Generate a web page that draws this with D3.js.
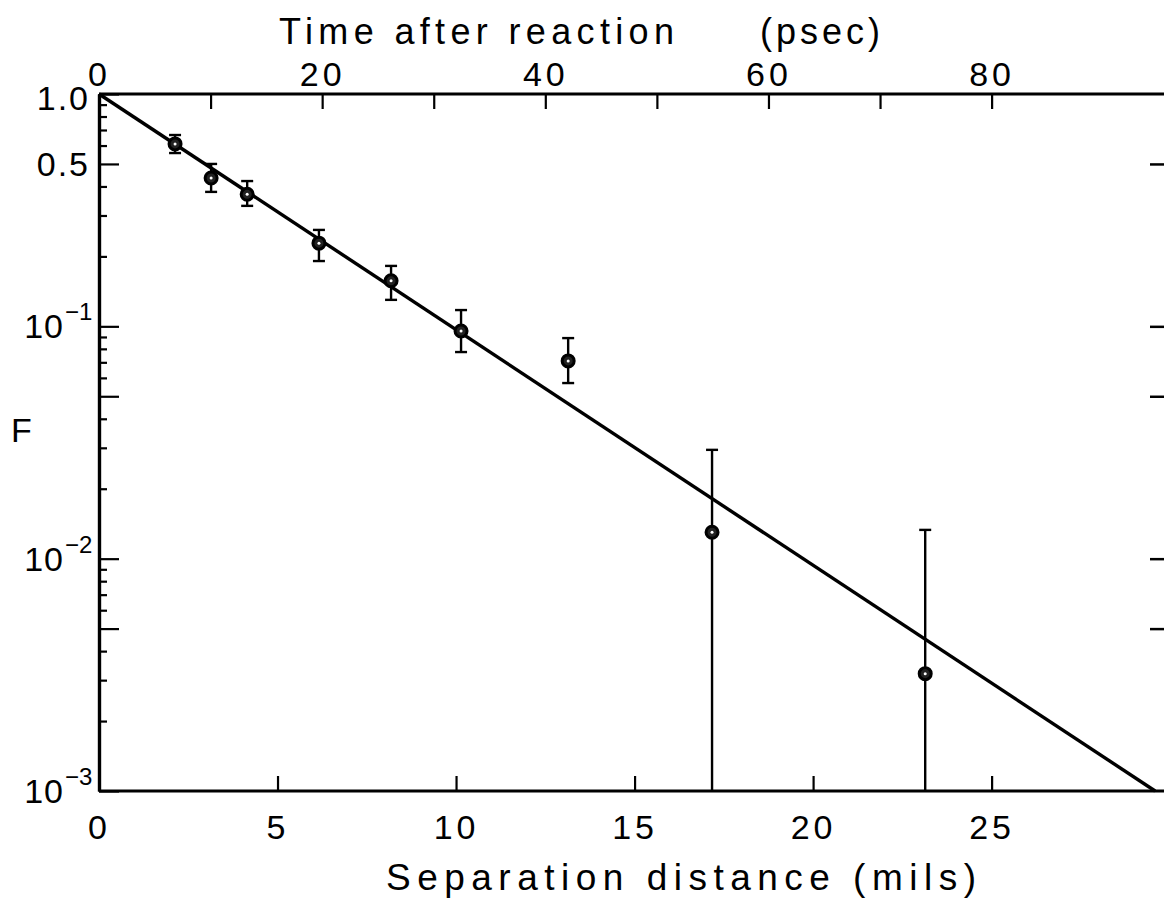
<!DOCTYPE html>
<html>
<head>
<meta charset="utf-8">
<script src="https://cdn.jsdelivr.net/npm/d3@7"></script>
<style>
  body { margin: 0; background: #fff; }
  svg { display: block; font-family: "Liberation Sans", Arial, sans-serif; }
  .axis path, .axis line { stroke: #000; }
</style>
</head>
<body>
<svg id="chart" width="1164" height="898"></svg>
<script>
// Measured points: separation (mils) and fraction F with error limits
const sepMils = [2.13, 3.14, 4.15, 6.16, 8.18, 10.14, 13.14, 17.17, 23.14];
const fValues = [0.61, 0.435, 0.37, 0.228, 0.157, 0.0955, 0.071, 0.0130, 0.0032];
const fUpper = [0.666, 0.50, 0.422, 0.260, 0.182, 0.1175, 0.089, 0.0294, 0.0133];
const fLower = [0.557, 0.379, 0.330, 0.191, 0.130, 0.0775, 0.057, 0.001, 0.001];

// Fitted exponential (straight on the log plot), end points
const fitMils = [0, 29.58];
const fitF = [1, 0.001];

// Axis ticks
const bottomTicks = [0, 5, 10, 15, 20, 25];
const topTicks = [0, 10, 20, 30, 40, 50, 60, 70, 80];
const topLabelled = [0, 20, 40, 60, 80];
const leftMajor = [1, 0.5, 0.1, 0.05, 0.01, 0.005, 0.001];
const rightTicks = [0.5, 0.1, 0.05, 0.01, 0.005];
const yLabels = [
  { v: 1, base: '1.0', exp: '' },
  { v: 0.5, base: '0.5', exp: '' },
  { v: 0.1, base: '10', exp: '−1' },
  { v: 0.01, base: '10', exp: '−2' },
  { v: 0.001, base: '10', exp: '−3' },
];
const psecPerMil = 3.2;

const svg = d3.select('#chart');
const mLeft = 99, mRight = 1163, mTop = 94, mBottom = 791;
const xMax = 29.8;

const x = d3.scaleLinear().domain([0, xMax]).range([mLeft, mRight]);
const xTop = d3.scaleLinear().domain([0, xMax * psecPerMil]).range([mLeft, mRight]);
const y = d3.scaleLog().domain([0.001, 1]).range([mBottom, mTop]);

// minor ticks 2..9 in every decade
const leftMinor = [];
[0.001, 0.01, 0.1].forEach((d) => {
  for (let k = 2; k <= 9; k++) if (k !== 5) leftMinor.push(d * k);
});

const styleAxis = (g, w) => {
  g.selectAll('path').attr('stroke-width', w);
  g.selectAll('line').attr('stroke-width', 2.2);
};
const font = '"Liberation Sans", Arial, sans-serif';

// bottom axis
const gB = svg.append('g').attr('class', 'axis')
  .attr('transform', `translate(0,${mBottom})`)
  .call(d3.axisBottom(x).tickValues(bottomTicks).tickSize(-15).tickSizeOuter(0));
styleAxis(gB, 3.2);
gB.select('path').attr('d', `M${mLeft},0H1164`);
gB.selectAll('text').attr('font-size', 34).attr('fill', '#000')
  .attr('dy', null).attr('y', 48).attr('letter-spacing', 4)
  .attr('font-family', font);

// top axis (time)
const gT = svg.append('g').attr('class', 'axis')
  .attr('transform', `translate(0,${mTop})`)
  .call(d3.axisTop(xTop).tickValues(topTicks).tickSize(-15).tickSizeOuter(0)
    .tickFormat((d) => (topLabelled.includes(d) ? d : '')));
styleAxis(gT, 3.2);
gT.select('path').attr('d', `M${mLeft},0H1164`);
gT.selectAll('text').attr('font-size', 34).attr('fill', '#000')
  .attr('dy', null).attr('y', -8).attr('letter-spacing', 4)
  .attr('font-family', font);

// left axis
const gL = svg.append('g').attr('class', 'axis')
  .attr('transform', `translate(${mLeft},0)`)
  .call(d3.axisLeft(y).tickValues(leftMinor).tickSize(-8).tickSizeOuter(0).tickFormat(''));
styleAxis(gL, 3.2);
const gL2 = svg.append('g').attr('class', 'axis')
  .attr('transform', `translate(${mLeft},0)`)
  .call(d3.axisLeft(y).tickValues(leftMajor).tickSize(-20).tickSizeOuter(0).tickFormat(''));
styleAxis(gL2, 3.2);

// right-side ticks (no visible spine)
const gR = svg.append('g').attr('class', 'axis')
  .attr('transform', 'translate(1164,0)')
  .call(d3.axisRight(y).tickValues(rightTicks).tickSize(-14).tickSizeOuter(0).tickFormat(''));
gR.select('path').remove();
gR.selectAll('line').attr('stroke-width', 2.5);

// y labels
const lab = svg.append('g').attr('font-size', 34).attr('fill', '#000');
yLabels.forEach((d) => {
  lab.append('text')
    .attr('x', d.exp ? 64 : 90)
    .attr('y', y(d.v) + 12 + (d.v === 1 ? 4 : 0))
    .attr('text-anchor', 'end')
    .attr('letter-spacing', d.exp ? 1 : 2)
    .text(d.base);
  if (d.exp) {
    lab.append('text')
      .attr('x', 65)
      .attr('y', y(d.v) - 6)
      .attr('font-size', 24)
      .text(d.exp);
  }
});

// axis titles
svg.append('text').attr('x', 11).attr('y', 442).attr('font-size', 34).text('F');
svg.append('text').attr('x', 279).attr('y', 44).attr('font-size', 36)
  .attr('textLength', 395).attr('lengthAdjust', 'spacing').text('Time after reaction');
svg.append('text').attr('x', 760).attr('y', 44).attr('font-size', 36)
  .attr('textLength', 120).attr('lengthAdjust', 'spacing').text('(psec)');
svg.append('text').attr('x', 386).attr('y', 890).attr('font-size', 37)
  .attr('textLength', 590).attr('lengthAdjust', 'spacing').text('Separation distance (mils)');

// fitted line
const line = d3.line().x((d) => x(d[0])).y((d) => y(d[1]));
svg.append('path')
  .datum(fitMils.map((m, i) => [m, fitF[i]]))
  .attr('d', line)
  .attr('fill', 'none')
  .attr('stroke', '#000')
  .attr('stroke-width', 3.4);

// error bars
const pts = sepMils.map((m, i) => ({ m, f: fValues[i], hi: fUpper[i], lo: fLower[i] }));
const eb = svg.append('g').attr('stroke', '#000').attr('stroke-width', 2.4);
eb.selectAll('line.v').data(pts).join('line').attr('class', 'v')
  .attr('x1', (d) => x(d.m)).attr('x2', (d) => x(d.m))
  .attr('y1', (d) => y(d.hi)).attr('y2', (d) => y(Math.max(d.lo, 0.001)));
eb.selectAll('line.hi').data(pts).join('line').attr('class', 'hi')
  .attr('x1', (d) => x(d.m) - 6).attr('x2', (d) => x(d.m) + 6)
  .attr('y1', (d) => y(d.hi)).attr('y2', (d) => y(d.hi));
eb.selectAll('line.lo').data(pts.filter((d) => d.lo > 0.001)).join('line').attr('class', 'lo')
  .attr('x1', (d) => x(d.m) - 6).attr('x2', (d) => x(d.m) + 6)
  .attr('y1', (d) => y(d.lo)).attr('y2', (d) => y(d.lo));

// markers
const mk = svg.append('g');
mk.selectAll('circle.o').data(pts).join('circle').attr('class', 'o')
  .attr('cx', (d) => x(d.m)).attr('cy', (d) => y(d.f)).attr('r', 6)
  .attr('fill', '#222').attr('stroke', '#000').attr('stroke-width', 3);
mk.selectAll('circle.i').data(pts).join('circle').attr('class', 'i')
  .attr('cx', (d) => x(d.m)).attr('cy', (d) => y(d.f)).attr('r', 1.5)
  .attr('fill', '#fff');
</script>
</body>
</html>
